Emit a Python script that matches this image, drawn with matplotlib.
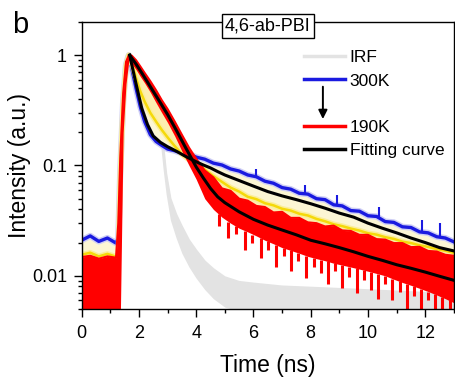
import matplotlib
matplotlib.use("Agg")
import matplotlib.pyplot as plt
from matplotlib.lines import Line2D
from matplotlib.ticker import LogLocator, MultipleLocator, NullFormatter

plt.rcParams['font.family'] = ['Liberation Sans', 'DejaVu Sans']

# ---- data (time in ns, normalised intensity) ----
t_irf = [1.25, 1.35, 1.45, 1.55, 1.62, 1.8, 2.0, 2.2, 2.4, 2.6, 2.75, 2.85, 2.95, 3.1, 3.3,
         3.5, 3.75, 4.0, 4.3, 4.6, 5.0, 5.5, 6.0, 7.0, 8.0, 9.0, 10.0, 11.0, 12.0, 13.0]
irf_hi = [0.005, 0.12, 0.55, 0.97, 1.0, 0.72, 0.5, 0.38, 0.3, 0.24, 0.2, 0.15, 0.085, 0.05, 0.036,
          0.028, 0.021, 0.017, 0.0135, 0.0115, 0.0097, 0.0088, 0.0085, 0.008, 0.0078, 0.0076,
          0.0074, 0.0072, 0.007, 0.0069]
irf_lo = [0.004, 0.08, 0.4, 0.85, 0.95, 0.62, 0.42, 0.32, 0.25, 0.2, 0.16, 0.09, 0.055, 0.032, 0.022,
          0.016, 0.012, 0.0095, 0.0075, 0.0062, 0.0052, 0.0048, 0.0045, 0.0043, 0.0042, 0.0042,
          0.0041, 0.0041, 0.004, 0.004]

t_data = [0, 0.3, 0.6, 0.9, 1.2, 1.28, 1.35, 1.45, 1.55, 1.65, 1.75, 1.9, 2.05, 2.2, 2.4, 2.6,
          2.8, 3.0, 3.25, 3.5, 3.75, 4.0, 4.3, 4.6, 4.9, 5.2, 5.5, 5.8, 6.1, 6.4, 6.7, 7.0, 7.3,
          7.6, 7.9, 8.2, 8.5, 8.8, 9.1, 9.4, 9.7, 10.0, 10.3, 10.6, 10.9, 11.2, 11.5, 11.8, 12.1,
          12.4, 12.7, 13.0]
pl_300K = [0.021, 0.023, 0.0205, 0.022, 0.0198, 0.022, 0.09, 0.38, 0.82, 1.0, 0.76, 0.5, 0.34,
           0.25, 0.19, 0.165, 0.152, 0.141, 0.136, 0.129, 0.127, 0.119, 0.114, 0.105, 0.101,
           0.093, 0.089, 0.082, 0.079, 0.072, 0.069, 0.063, 0.061, 0.056, 0.055, 0.05, 0.049,
           0.044, 0.043, 0.039, 0.0385, 0.035, 0.0345, 0.031, 0.0305, 0.0278, 0.0274, 0.025,
           0.0245, 0.0226, 0.022, 0.0203]
pl_mid = [0.0155, 0.0162, 0.015, 0.0158, 0.0149, 0.016, 0.08, 0.36, 0.8, 1.0, 0.85, 0.62, 0.47,
          0.38, 0.3, 0.25, 0.21, 0.18, 0.15, 0.127, 0.113, 0.104, 0.092, 0.08, 0.071, 0.063,
          0.058, 0.052, 0.0495, 0.0455, 0.0435, 0.0405, 0.039, 0.0365, 0.0352, 0.0328, 0.0312,
          0.0293, 0.0282, 0.0268, 0.0257, 0.0243, 0.0236, 0.0224, 0.0216, 0.0204, 0.0198,
          0.0189, 0.0183, 0.0174, 0.0169, 0.0161]
pl_190K_hi = [0.0148, 0.0152, 0.0143, 0.015, 0.0146, 0.03, 0.12, 0.45, 0.87, 1.0, 0.99, 0.9,
              0.79, 0.69, 0.58, 0.48, 0.39, 0.325, 0.25, 0.19, 0.145, 0.115, 0.09, 0.078,
              0.062, 0.059, 0.05, 0.048, 0.043, 0.042, 0.0375, 0.038, 0.0335, 0.0335, 0.0305,
              0.03, 0.028, 0.0285, 0.0258, 0.0255, 0.0235, 0.0235, 0.0215, 0.0213, 0.0198,
              0.0198, 0.0182, 0.0183, 0.0168, 0.0166, 0.0155, 0.0152]
pl_190K_lo = [0.004, 0.004, 0.004, 0.004, 0.004, 0.004, 0.004, 0.2, 0.55, 0.9, 0.84, 0.74, 0.64,
              0.56, 0.46, 0.37, 0.3, 0.245, 0.185, 0.135, 0.1, 0.075, 0.05, 0.04, 0.034, 0.03,
              0.027, 0.025, 0.023, 0.021, 0.0195, 0.018, 0.017, 0.016, 0.015, 0.0143, 0.0137,
              0.013, 0.0125, 0.012, 0.0115, 0.011, 0.0105, 0.01, 0.0093, 0.0087, 0.0082,
              0.0077, 0.0072, 0.0067, 0.0062, 0.0057]

# photon-count dropouts of the 190K trace and bumps on the 300K trace
drop_t = [4.8, 5.1, 5.4, 5.7, 5.95, 6.25, 6.5, 6.8, 7.05, 7.3, 7.55, 7.85, 8.1, 8.35, 8.6, 8.85,
          9.1, 9.35, 9.6, 9.85, 10.1, 10.35, 10.6, 10.85, 11.1, 11.35, 11.6, 11.85, 12.1, 12.35,
          12.6, 12.85]
drop_hi = [0.036, 0.031, 0.028, 0.0257, 0.0235, 0.022, 0.0205, 0.019, 0.018, 0.017, 0.0162,
           0.0152, 0.0146, 0.014, 0.0135, 0.013, 0.0125, 0.012, 0.0117, 0.0112, 0.0108, 0.0104,
           0.01, 0.0094, 0.0089, 0.0085, 0.008, 0.0076, 0.0072, 0.0068, 0.0064, 0.006]
drop_lo = [0.028, 0.022, 0.024, 0.017, 0.02, 0.0145, 0.017, 0.012, 0.015, 0.011, 0.0135, 0.0095,
           0.012, 0.0105, 0.0085, 0.011, 0.0078, 0.0098, 0.007, 0.0092, 0.0075, 0.0062, 0.0085,
           0.006, 0.0072, 0.005, 0.0065, 0.005, 0.006, 0.005, 0.005, 0.005]
bump_t = [6.1, 7.8, 8.9, 10.4, 11.9, 12.5]
bump_lo = [0.079, 0.055, 0.044, 0.034, 0.025, 0.023]
bump_hi = [0.092, 0.066, 0.054, 0.042, 0.032, 0.03]

t_fit = [1.68, 1.75, 1.9, 2.1, 2.3, 2.5, 2.75, 3.0, 3.3, 3.6, 4.0, 4.25, 4.5, 4.75, 5.0, 5.5, 6.0,
         6.5, 7.0, 7.5, 8.0, 8.5, 9.0, 9.5, 10.0, 10.5, 11.0, 11.5, 12.0, 12.5, 13.0]
fit_300K = [1.0, 0.82, 0.55, 0.33, 0.235, 0.185, 0.162, 0.148, 0.135, 0.122, 0.108, 0.101, 0.095,
            0.088, 0.082, 0.073, 0.065, 0.058, 0.053, 0.049, 0.045, 0.041, 0.037, 0.034, 0.030,
            0.027, 0.0245, 0.022, 0.020, 0.018, 0.0168]
fit_190K = [1.0, 0.94, 0.83, 0.69, 0.57, 0.47, 0.37, 0.29, 0.21, 0.15, 0.097, 0.077, 0.062,
            0.052, 0.046, 0.038, 0.0325, 0.0288, 0.026, 0.0235, 0.021, 0.0195, 0.018, 0.0165,
            0.015, 0.0138, 0.0126, 0.0117, 0.0108, 0.0099, 0.0091]

fig = plt.figure(figsize=(4.56, 3.78), dpi=100)
ax = fig.add_axes([0.179, 0.1825, 0.8165, 0.7595])

# IRF
ax.fill_between(t_irf, irf_lo, irf_hi, color='#e3e3e3', lw=0, zorder=1.0)
ax.plot(t_irf, irf_hi, color='#e3e3e3', lw=1.5, zorder=1.05)

# intermediate temperatures between 300K and 190K
ax.fill_between(t_data, pl_mid, pl_190K_hi, color='#fdeeb0', lw=0, zorder=1.1)
ax.fill_between(t_data, pl_300K, pl_mid, color='#fcf6d4', lw=0, zorder=1.15)
ax.plot(t_data, pl_300K, color='#cfcff5', lw=4.5, zorder=1.2)
ax.plot(t_data, pl_300K, color='#1a1ae0', lw=2.4, zorder=1.25)
ax.vlines(bump_t, bump_lo, bump_hi, color='#1a1ae0', lw=1.5, zorder=1.25)
ax.plot(t_data, pl_mid, color='#fbee9a', lw=4, zorder=1.3)
ax.plot(t_data, pl_mid, color='#f5d90a', lw=1.8, zorder=1.35)

# 190K
ax.fill_between(t_data, pl_190K_lo, pl_190K_hi, color='#ff0000', lw=0, zorder=1.4)
ax.plot(t_data, pl_190K_hi, color='#ff0000', lw=1.5, zorder=1.45)
ax.vlines(drop_t, drop_lo, drop_hi, color='#ff0000', lw=2.2, zorder=1.45)

# fits
ax.plot(t_fit, fit_300K, color='black', lw=2.2, zorder=2)
ax.plot(t_fit, fit_190K, color='black', lw=2.2, zorder=2)

ax.set_yscale('log')
ax.set_xlim(0, 13)
ax.set_ylim(0.005, 2)
ax.set_xticks([0, 2, 4, 6, 8, 10, 12])
ax.xaxis.set_minor_locator(MultipleLocator(1))
ax.set_yticks([0.01, 0.1, 1], ['0.01', '0.1', '1'])
ax.yaxis.set_minor_locator(LogLocator(base=10, subs=range(2, 10)))
ax.yaxis.set_minor_formatter(NullFormatter())
ax.tick_params(which='both', direction='out', top=False, right=False, labelsize=13, width=1)
ax.tick_params(axis='x', which='major', length=5.5, pad=5.7)
ax.tick_params(axis='y', which='major', length=6, pad=4.5)
ax.tick_params(which='minor', length=3)
for s in ax.spines.values():
    s.set_linewidth(1)
ax.set_xlabel('Time (ns)', fontsize=16.5, labelpad=9)
ax.set_ylabel('Intensity (a.u.)', fontsize=16.5, labelpad=1)

ax.text(0.5, 0.985, '4,6-ab-PBI', transform=ax.transAxes, ha='center', va='center', fontsize=13,
        bbox=dict(boxstyle='square,pad=0.18', fc='white', ec='black', lw=1), zorder=10)
fig.text(12 / 456, 1 - 33 / 378, 'b', fontsize=21, va='baseline')

handles = [Line2D([], [], color='#e3e3e3', lw=2.5), Line2D([], [], color='#1a1ae0', lw=2.5),
           Line2D([], [], color='none'), Line2D([], [], color='#ff0000', lw=2.5),
           Line2D([], [], color='black', lw=2.5)]
labels = ['IRF', '300K', '', '190K', 'Fitting curve']
ax.legend(handles, labels, loc='upper left', bbox_to_anchor=(0.596, 0.902), frameon=False,
          fontsize=12.5, handlelength=2.36, handletextpad=0.3, labelspacing=0.47,
          borderaxespad=0, borderpad=0)
ax.annotate('', xy=(0.648, 0.652), xytext=(0.648, 0.784), xycoords='axes fraction',
            arrowprops=dict(arrowstyle='-|>', color='black', lw=1.4, mutation_scale=13))

fig.savefig('out.png', dpi=100)
